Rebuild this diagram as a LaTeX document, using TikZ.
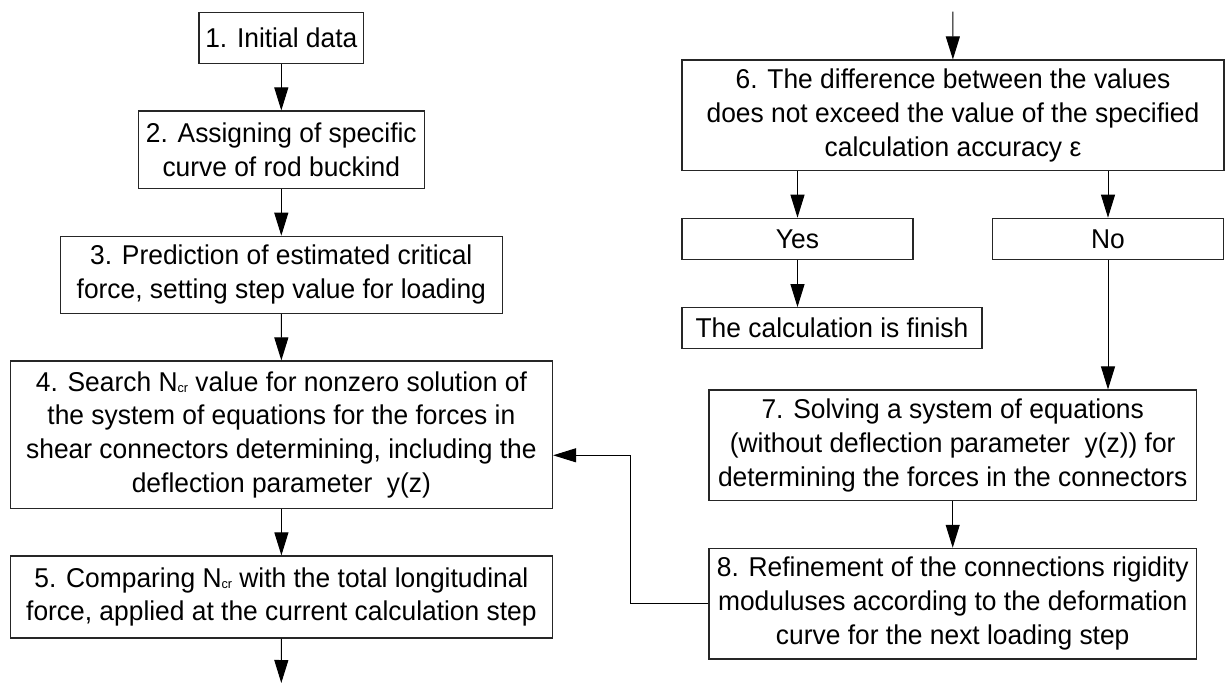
\documentclass[tikz,border=0pt]{standalone}
\usepackage{fontspec}
\setmainfont[FakeStretch=0.97]{Liberation Sans}
\usetikzlibrary{arrows.meta}
\newcommand{\Ncr}{N\raisebox{-0.8pt}{\fontsize{6.5pt}{6.5pt}\selectfont cr}}
\begin{document}
\begin{tikzpicture}[x=0.5pt,y=-0.5pt,
  box/.style={draw=black!85, line width=0.6pt, align=center, inner sep=0pt,
    font=\fontsize{13.6pt}{16.9pt}\selectfont, anchor=center},
  arr/.style={draw=black, line width=0.5pt, -{Triangle[length=11.5pt,width=7pt]}}]
\useasboundingbox (0,0) rectangle (1227,684);
% left column
\node[box, minimum width=82.35pt, minimum height=25.5pt] (b1) at (281.3,37.8) {1. Initial data};
\node[box, minimum width=143pt, minimum height=38.65pt] (b2) at (281.3,149.7) {2. Assigning of specific\\curve of rod buckind};
\node[box, minimum width=221pt, minimum height=38.5pt] (b3) at (281.3,274.8) {3. Prediction of estimated critical\\force, setting step value for loading};
\node[box, minimum width=271.1pt, minimum height=73.65pt] (b4) at (281.4,434.7) {4. Search \Ncr{} value for nonzero solution of\\the system of equations for the forces in\\shear connectors determining, including the\\deflection parameter\ \ y(z)};
\node[box, minimum width=271.1pt, minimum height=41pt] (b5) at (281.4,597) {5. Comparing \Ncr{} with the total longitudinal\\force, applied at the current calculation step};
% right column
\node[box, minimum width=271pt, minimum height=55.15pt] (b6) at (953,115.2) {6. The difference between the values\\does not exceed the value of the specified\\calculation accuracy ε};
\node[box, minimum width=115.5pt, minimum height=20.5pt] (yes) at (797.5,238.8) {Yes};
\node[box, minimum width=115.5pt, minimum height=20.5pt] (no) at (1108,238.8) {No};
\node[box, minimum width=150pt, minimum height=20.3pt] (fin) at (832,328) {The calculation is finish};
\node[box, minimum width=243.7pt, minimum height=55.15pt] (b7) at (952.7,445.2) {7. Solving a system of equations\\(without deflection parameter\ \ y(z)) for\\determining the forces in the connectors};
\node[box, minimum width=243.7pt, minimum height=55.35pt] (b8) at (952.7,603.7) {8. Refinement of the connections rigidity\\moduluses according to the deformation\\curve for the next loading step};
% connectors
\coordinate (top) at (952.8,11.7);
\coordinate (bot) at (281.3,683);
\coordinate (fb) at (630,455.3);
\draw[arr] (b1) -- (b2);
\draw[arr] (b2) -- (b3);
\draw[arr] (b3) -- (b4);
\draw[arr] (b4) -- (b5);
\draw[arr] (b5) -- (bot);
\draw[arr] (top) -- (b6);
\draw[arr] (b6.south -| yes.north) -- (yes.north);
\draw[arr] (b6.south -| no.north) -- (no.north);
\draw[arr] (yes.south) -- (yes.south |- fin.north);
\draw[arr] (no.south) -- (no.south |- b7.north);
\draw[arr] (b7) -- (b8);
\draw[arr] (b8.west) -| (fb) -- (fb -| b4.east);
\end{tikzpicture}
\end{document}
